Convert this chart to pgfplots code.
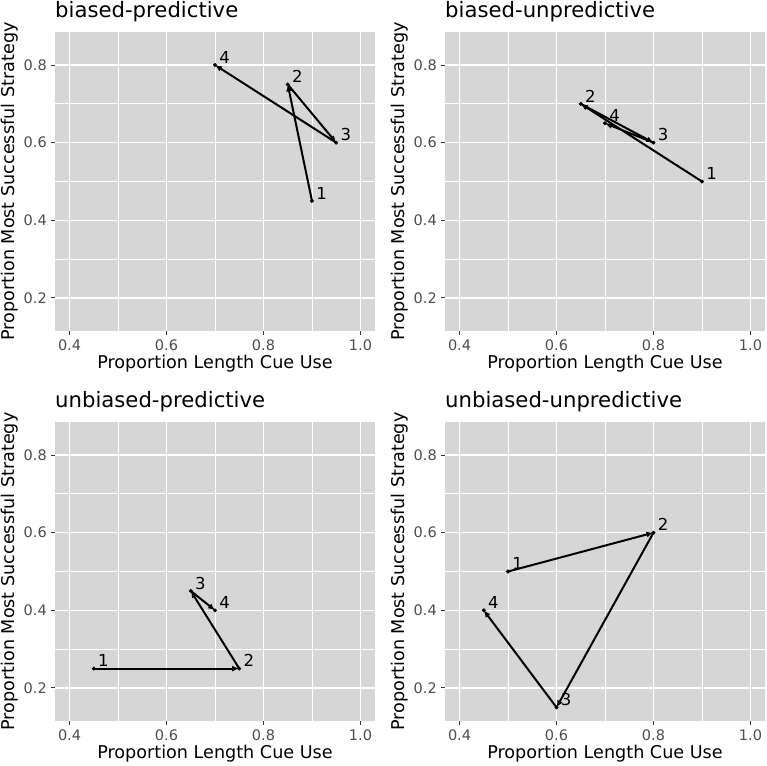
\documentclass[border=0pt]{standalone}
\usepackage{fontspec}
\setmainfont{DejaVu Sans}
\usepackage{pgfplots}
\pgfplotsset{compat=1.18}
\usepackage{pgfplotstable}
\usetikzlibrary{arrows.meta}

\definecolor{panelbg}{HTML}{D6D6D6}
\definecolor{tickgrey}{HTML}{333333}
\definecolor{labgrey}{HTML}{4D4D4D}

% Session means per condition: x = length cue use, y = most successful strategy
\pgfplotstableread{
x    y    lbl
0.90 0.45 1
0.85 0.75 2
0.95 0.60 3
0.70 0.80 4
}\biasedpred
\pgfplotstableread{
x    y    lbl
0.90 0.50 1
0.65 0.70 2
0.80 0.60 3
0.70 0.65 4
}\biasedunpred
\pgfplotstableread{
x    y    lbl
0.45 0.25 1
0.75 0.25 2
0.65 0.45 3
0.70 0.40 4
}\unbiasedpred
\pgfplotstableread{
x    y    lbl
0.50 0.50 1
0.80 0.60 2
0.60 0.15 3
0.45 0.40 4
}\unbiasedunpred

% Steps between consecutive sessions (from -> to)
\pgfplotstableread{
x0   y0   x1   y1
0.90 0.45 0.85 0.75
0.85 0.75 0.95 0.60
0.95 0.60 0.70 0.80
}\biasedpredseg
\pgfplotstableread{
x0   y0   x1   y1
0.90 0.50 0.65 0.70
0.65 0.70 0.80 0.60
0.80 0.60 0.70 0.65
}\biasedunpredseg
\pgfplotstableread{
x0   y0   x1   y1
0.45 0.25 0.75 0.25
0.75 0.25 0.65 0.45
0.65 0.45 0.70 0.40
}\unbiasedpredseg
\pgfplotstableread{
x0   y0   x1   y1
0.50 0.50 0.80 0.60
0.80 0.60 0.60 0.15
0.60 0.15 0.45 0.40
}\unbiasedunpredseg

\pgfplotsset{
  every axis title shift=0pt,
  facet/.style={
    scale only axis, width=320bp, height=299bp,
    xmin=0.37, xmax=1.03, ymin=0.115, ymax=0.885,
    axis background/.style={fill=panelbg},
    axis line style={draw=none},
    xtick={0.4,0.6,0.8,1.0}, xticklabels={0.4,0.6,0.8,1.0},
    ytick={0.2,0.4,0.6,0.8}, yticklabels={0.2,0.4,0.6,0.8},
    minor xtick={0.5,0.7,0.9}, minor ytick={0.3,0.5,0.7},
    grid=both,
    major grid style={white, line width=1.4bp},
    minor grid style={white, line width=0.7bp},
    tick align=outside, tick pos=left,
    major tick length=4bp, minor tick length=0pt,
    major tick style={tickgrey, line width=1bp},
    minor tick style={draw=none},
    /pgf/number format/assume math mode=true,
    ticklabel style={font=\fontsize{14.5bp}{16bp}\selectfont, text=labgrey, inner sep=0pt},
    xticklabel style={anchor=north, yshift=-5bp},
    yticklabel style={anchor=east, xshift=-4bp},
    label style={font=\fontsize{17.6bp}{20bp}\selectfont},
    xlabel={Proportion Length Cue Use},
    ylabel={Proportion Most Successful Strategy},
    xlabel style={at={(axis description cs:0.5,-0.127)}, anchor=base},
    ylabel style={at={(axis description cs:-0.128,0.5)}, anchor=base},
    title style={at={(axis description cs:0,1.050)}, anchor=base west,
      font=\fontsize{21.2bp}{24bp}\selectfont, inner sep=0pt},
  },
  steps/.style={black, line width=2bp, -{Latex[length=7bp,width=6bp]},
    quiver={u=\thisrow{x1}-\thisrow{x0}, v=\thisrow{y1}-\thisrow{y0}}},
  sessions/.style={only marks, mark=*, mark size=1.8bp, black,
    nodes near coords, point meta=explicit symbolic,
    nodes near coords style={anchor=center, xshift=9.7bp, yshift=7.8bp,
      font=\fontsize{16.5bp}{18bp}\selectfont, text=black, inner sep=0pt}},
}

\begin{document}
\begin{tikzpicture}
\path[use as bounding box] (0,0) rectangle (767bp,766bp);

\begin{axis}[facet, at={(55bp,435bp)}, anchor=south west, title={biased-predictive}]
  \addplot[steps] table[x=x0, y=y0] {\biasedpredseg};
  \addplot[sessions] table[x=x, y=y, meta=lbl] {\biasedpred};
\end{axis}

\begin{axis}[facet, at={(445bp,435bp)}, anchor=south west, title={biased-unpredictive}]
  \addplot[steps] table[x=x0, y=y0] {\biasedunpredseg};
  \addplot[sessions] table[x=x, y=y, meta=lbl] {\biasedunpred};
\end{axis}

\begin{axis}[facet, at={(55bp,45bp)}, anchor=south west, title={unbiased-predictive}]
  \addplot[steps] table[x=x0, y=y0] {\unbiasedpredseg};
  \addplot[sessions] table[x=x, y=y, meta=lbl] {\unbiasedpred};
\end{axis}

\begin{axis}[facet, at={(445bp,45bp)}, anchor=south west, title={unbiased-unpredictive}]
  \addplot[steps] table[x=x0, y=y0] {\unbiasedunpredseg};
  \addplot[sessions] table[x=x, y=y, meta=lbl] {\unbiasedunpred};
\end{axis}
\end{tikzpicture}
\end{document}
